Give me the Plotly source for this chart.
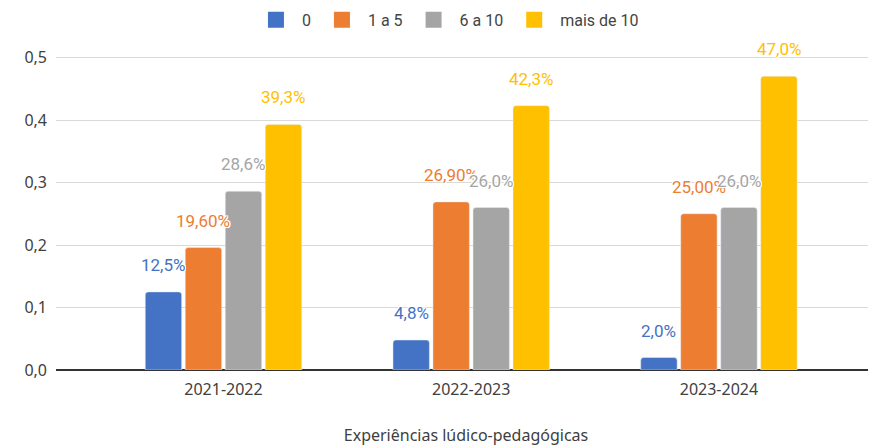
import plotly.graph_objects as go

# Dados
anos = ["2021-2022", "2022-2023", "2023-2024"]
series = ["0", "1 a 5", "6 a 10", "mais de 10"]
v_0 = [0.125, 0.048, 0.020]
v_1a5 = [0.196, 0.269, 0.250]
v_6a10 = [0.286, 0.260, 0.260]
v_mais10 = [0.393, 0.423, 0.470]
rot_0 = ["12,5%", "4,8%", "2,0%"]
rot_1a5 = ["19,60%", "26,90%", "25,00%"]
rot_6a10 = ["28,6%", "26,0%", "26,0%"]
rot_mais10 = ["39,3%", "42,3%", "47,0%"]

valores = [v_0, v_1a5, v_6a10, v_mais10]
rotulos = [rot_0, rot_1a5, rot_6a10, rot_mais10]
cores = ["#4472C4", "#ED7D31", "#A5A5A5", "#FFC000"]

BARGAP = 0.354
halo = "1px 1px 0 #fff, -1px -1px 0 #fff, 1px -1px 0 #fff, -1px 1px 0 #fff, 0 1px 0 #fff, 0 -1px 0 #fff, 1px 0 0 #fff, -1px 0 0 #fff"

fig = go.Figure()
for nome, vals, cor in zip(series, valores, cores):
    fig.add_trace(go.Bar(x=anos, y=vals, name=nome, marker_color=cor, showlegend=False))
    # entrada de legenda com quadrado maior
    fig.add_trace(go.Scatter(x=[None], y=[None], mode="markers", name=nome,
                             marker=dict(symbol="square", size=16, color=cor)))

# rótulos de dados acima das barras
slot = (1 - BARGAP) / len(series)
for i, (vals, rots, cor) in enumerate(zip(valores, rotulos, cores)):
    for j, (v, r) in enumerate(zip(vals, rots)):
        fig.add_annotation(
            x=j + (i - 1.5) * slot, y=v, xref="x", yref="y",
            text=r, showarrow=False, yshift=27,
            font=dict(family="Roboto", size=17, color=cor, shadow=halo),
        )

# a página tem 8px de margem no corpo
fig.update_layout(
    width=868, height=438,
    margin=dict(l=48, r=0, t=36.5, b=76, autoexpand=False),
    paper_bgcolor="white", plot_bgcolor="white",
    barmode="group", bargap=BARGAP, bargroupgap=0.09,
    barcornerradius=3,
    separators=", ",
    font=dict(family="Noto Sans", size=16, color="#404040"),
    legend=dict(orientation="h", x=0.5057, xanchor="center", xref="container",
                y=1.13, yanchor="top", yref="paper",
                font=dict(family="Roboto", size=16, color="#444444"),
                itemwidth=42),
    xaxis=dict(type="category", range=[-0.676, 2.634], showgrid=False, automargin=False,
               ticks="", tickfont=dict(size=16), ticklabelstandoff=8,
               title=dict(text="Experiências lúdico-pedagógicas", font=dict(size=16), standoff=36)),
    yaxis=dict(range=[0, 0.52], tickvals=[0, 0.1, 0.2, 0.3, 0.4, 0.5], tickformat=".1f",
               showgrid=True, gridcolor="#d9d9d9", gridwidth=1.3, automargin=False,
               zeroline=True, zerolinecolor="#333333", zerolinewidth=1.5,
               ticks="", ticklabelstandoff=8, tickfont=dict(size=16)),
)

fig.write_html("out.html")
